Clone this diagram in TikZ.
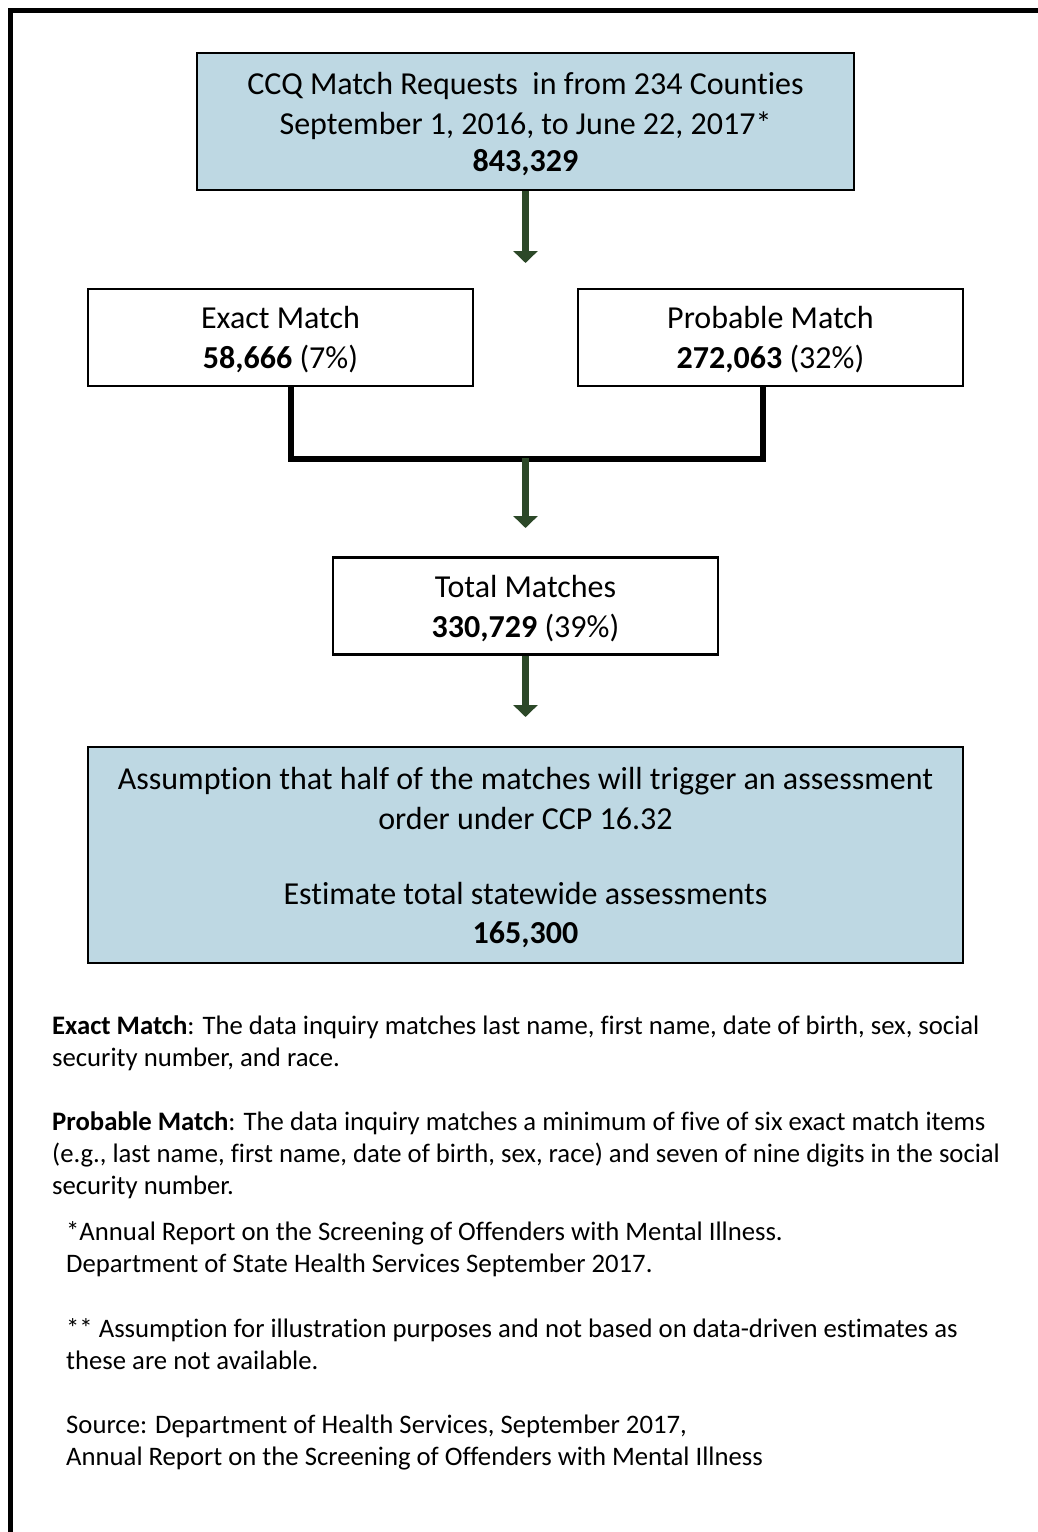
\documentclass[tikz,border=0pt]{standalone}
\usepackage{fontspec}
\setmainfont[Ligatures=NoCommon]{Carlito}
\usetikzlibrary{positioning,arrows.meta}

\definecolor{boxblue}{RGB}{190,216,227}
\definecolor{arrgreen}{RGB}{44,72,40}

\tikzset{
  blk/.style={draw,line width=2.5pt,inner sep=0pt,align=center,
    font=\fontsize{32}{40}\selectfont,text depth=-1pt},
  infobox/.style={blk,fill=boxblue},
  arr/.style={draw=arrgreen,line width=7pt,-{Triangle[width=24pt,length=12pt]}},
  bar/.style={line width=6pt},
  note/.style={anchor=north west,inner sep=0pt,align=left,
    font=\fontsize{26.7}{32}\selectfont}
}

\begin{document}
\begin{tikzpicture}[x=1pt,y=-1pt,on grid]
    \clip (0,0) rectangle (1038,1532);
    % outer frame, right and bottom sides run off the page
    \draw[line width=5pt] (10,10) rectangle (1100,1600);

    \node[infobox,minimum width=657pt,minimum height=137pt] (req) at (525.5,121.5)
      {CCQ Match Requests\ \ in from 234 Counties\\
       September 1, 2016, to June 22, 2017*\\[-3pt]
       \textbf{843,329}};
    \node[blk,minimum width=385pt,minimum height=97pt] (exact) [below left=216pt and 245pt of req]
      {Exact Match\\\textbf{58,666} (7\%)};
    \node[blk,minimum width=385pt,minimum height=97pt] (prob) [below right=216pt and 245pt of req]
      {Probable Match\\\textbf{272,063} (32\%)};
    \node[blk,minimum width=385pt,minimum height=97pt] (total) [below=484.5pt of req]
      {Total Matches\\\textbf{330,729} (39\%)};
    \node[infobox,minimum width=875pt,minimum height=216pt] (assume) [below=249pt of total]
      {Assumption that half of the matches will trigger an assessment\\
       order under CCP 16.32\\[35pt]
       Estimate total statewide assessments\\[-1pt]
       \textbf{165,300}};

    \coordinate (a1end) at (525.5,263);
    \coordinate (join) at (525.5,458);
    \coordinate (a2end) at (525.5,528);
    \coordinate (a3end) at (525.5,717);

    \draw[arr] (req.south) -- (a1end);
    \draw[bar] ([xshift=10pt]exact.south) -- ++(0,72) -| ([xshift=-8pt]prob.south);
    \draw[arr] (join) -- (a2end);
    \draw[arr] (total.south) -- (a3end);

    % notes under the chart
    \node[note] (defexact) at (52,1015.5)
      {\textbf{Exact Match}: The data inquiry matches last name, first name, date of birth, sex, social\\
       security number, and race.};
    \node[note] (defprob) at (52,1111.5)
      {\textbf{Probable Match}: The data inquiry matches a minimum of five of six exact match items\\
       (e.g., last name, first name, date of birth, sex, race) and seven of nine digits in the social\\
       security number.};
    \node[note] (star) at (66,1221.5)
      {*Annual Report on the Screening of Offenders with Mental Illness.\\
       Department of State Health Services September 2017.};
    \node[note] (dstar) at (66,1318.5)
      {** Assumption for illustration purposes and not based on data-driven estimates as\\
       these are not available.};
    \node[note] (src) at (66,1414.5)
      {Source: Department of Health Services, September 2017,\\
       Annual Report on the Screening of Offenders with Mental Illness};
\end{tikzpicture}
\end{document}
